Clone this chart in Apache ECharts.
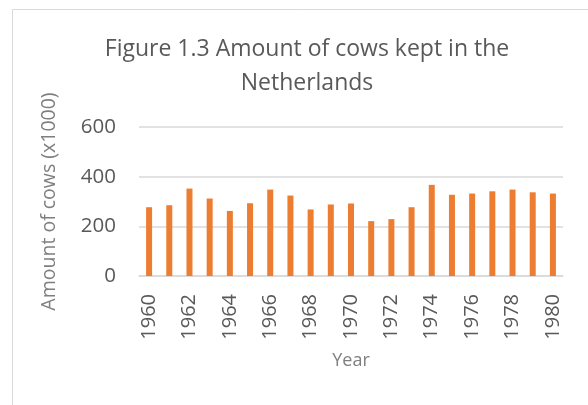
<!DOCTYPE html>
<html>
<head>
<meta charset="utf-8">
<script src="https://cdn.jsdelivr.net/npm/echarts@6/dist/echarts.min.js"></script>
<style>
  html, body { margin: 0; padding: 0; background: #fff; }
  #chart { width: 588px; height: 405px; }
</style>
</head>
<body>
<div id="chart"></div>
<script>
// Dairy herd size per year, in thousands of cows
const years = ['1960','1961','1962','1963','1964','1965','1966','1967','1968','1969','1970',
               '1971','1972','1973','1974','1975','1976','1977','1978','1979','1980'];
const cows = [277, 285, 352, 312, 262, 293, 348, 324, 268, 288, 292,
              221, 229, 277, 367, 327, 332, 341, 348, 337, 332];

const font = '"Open Sans", "Liberation Sans", sans-serif';
const chart = echarts.init(document.getElementById('chart'));
chart.setOption({
  animation: false,
  title: {
    text: 'Figure 1.3 Amount of cows kept in the\nNetherlands',
    left: 302, top: 27, textAlign: 'center',
    textStyle: { fontFamily: font, fontSize: 23, fontWeight: 'normal', color: '#595959', lineHeight: 34 }
  },
  graphic: [{
    type: 'rect', shape: { x: 12.5, y: 9.5, width: 600, height: 420 },
    style: { fill: 'none', stroke: '#d9d9d9', lineWidth: 1 }, silent: true
  }],
  grid: { left: 139, right: 25, top: 127, bottom: 129 },
  xAxis: {
    type: 'category', data: years,
    name: 'Year', nameLocation: 'middle', nameGap: 76,
    nameTextStyle: { fontFamily: font, fontSize: 18, color: '#7f7f7f' },
    axisLine: { lineStyle: { color: '#d9d9d9', width: 1.5 } },
    axisTick: { show: false },
    axisLabel: { interval: 1, rotate: 90, fontFamily: font, fontSize: 20, color: '#595959', margin: 18 }
  },
  yAxis: {
    type: 'value', min: 0, max: 600, interval: 200,
    name: 'Amount of cows (x1000)', nameLocation: 'middle', nameGap: 80,
    nameTextStyle: { fontFamily: font, fontSize: 19.5, color: '#7f7f7f' },
    axisLine: { show: false }, axisTick: { show: false },
    axisLabel: { fontFamily: font, fontSize: 20.5, color: '#595959', margin: 23 },
    splitLine: { lineStyle: { color: '#d9d9d9', width: 1.5 } }
  },
  series: [{
    type: 'bar', data: cows, barWidth: 6,
    itemStyle: { color: '#ED7D31' }
  }]
});
</script>
</body>
</html>
